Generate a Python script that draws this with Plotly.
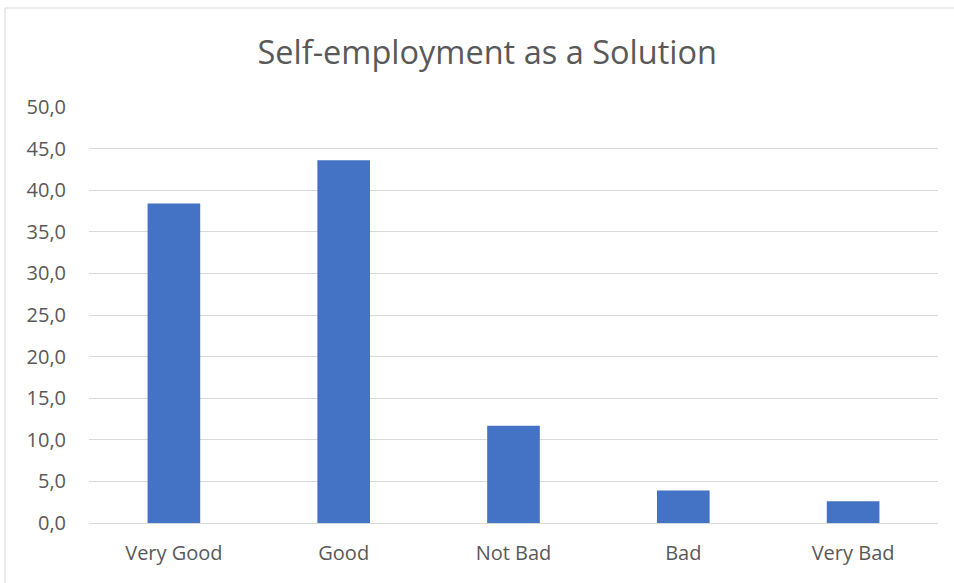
import plotly.graph_objects as go

categories = ["Very Good", "Good", "Not Bad", "Bad", "Very Bad"]
values = [38.4, 43.6, 11.7, 3.9, 2.6]
y_ticks = [0, 5, 10, 15, 20, 25, 30, 35, 40, 45, 50]

W, H = 954, 583
text_color = "#595959"
grid_color = "#d9d9d9"

fig = go.Figure(
    go.Bar(
        x=categories,
        y=values,
        marker=dict(color="#4472C4", line=dict(width=0)),
        hoverinfo="x+y",
    )
)

fig.update_layout(
    width=W,
    height=H,
    margin=dict(l=89, r=16, t=107, b=60),
    paper_bgcolor="white",
    plot_bgcolor="white",
    separators=", ",
    bargap=0.69,
    showlegend=False,
    font=dict(family="Open Sans", color=text_color, size=20),
    title=dict(
        text="Self-employment as a Solution",
        x=0.469,
        xanchor="center",
        xref="paper",
        y=1 - 53 / H,
        yref="container",
        yanchor="middle",
        font=dict(family="Open Sans", size=32.5, color=text_color),
    ),
    shapes=[
        dict(
            type="rect",
            xref="paper",
            yref="paper",
            x0=-84 / 849,
            x1=1.05,
            y0=-0.2,
            y1=1 + 99 / 416,
            line=dict(color="#d9d9d9", width=1),
            fillcolor="rgba(0,0,0,0)",
            layer="below",
        )
    ],
)

fig.update_yaxes(
    range=[0, 50],
    tickvals=y_ticks,
    tickformat=".1f",
    showgrid=True,
    gridcolor=grid_color,
    gridwidth=1,
    zeroline=True,
    zerolinecolor=grid_color,
    zerolinewidth=1,
    showline=False,
    ticks="",
    ticklabelstandoff=22,
    tickfont=dict(size=20, color=text_color),
)

fig.update_xaxes(
    showgrid=False,
    showline=False,
    ticks="",
    ticklabelstandoff=16,
    tickfont=dict(size=20, color=text_color),
)

fig.write_html("out.html")
